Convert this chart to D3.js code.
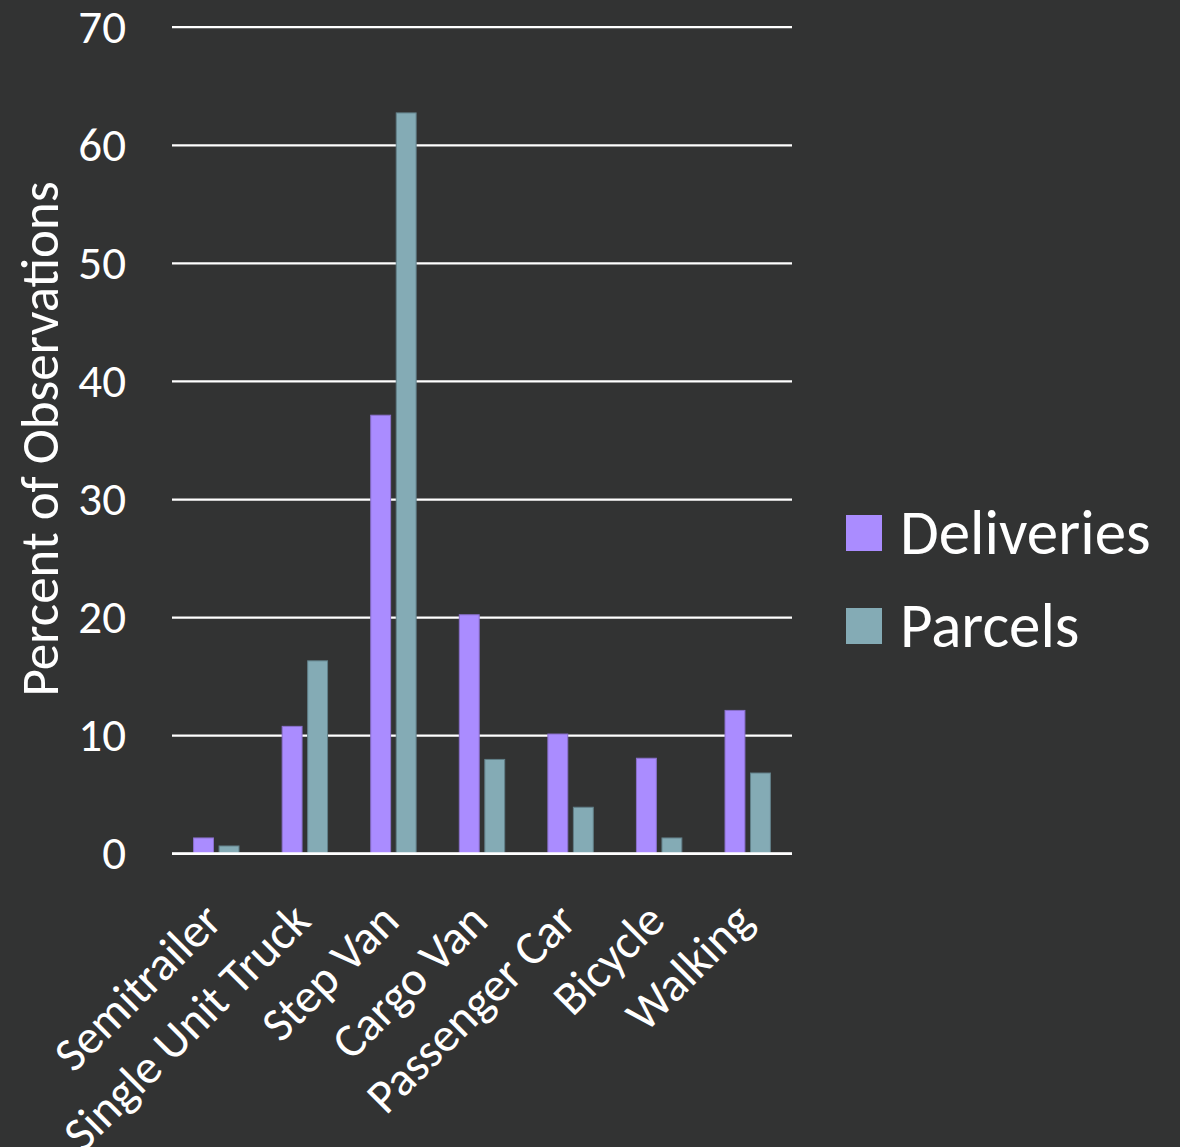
<!DOCTYPE html>
<html>
<head>
<meta charset="utf-8">
<script src="https://cdn.jsdelivr.net/npm/d3@7"></script>
<style>
  html, body { margin: 0; padding: 0; background: #323333; }
  text { font-family: Carlito, Calibri, "Open Sans", sans-serif; fill: #ffffff; }
</style>
</head>
<body>
<div id="chart"></div>
<script>
var categories = ["Semitrailer", "Single Unit Truck", "Step Van", "Cargo Van", "Passenger Car", "Bicycle", "Walking"];
var seriesNames = ["Deliveries", "Parcels"];
var deliveries = [1.3, 10.75, 37.1, 20.2, 10.1, 8.05, 12.1];
var parcels = [0.62, 16.3, 62.7, 7.95, 3.9, 1.3, 6.8];
var yTicks = [0, 10, 20, 30, 40, 50, 60, 70];

var colors = { Deliveries: "#aa8cff", Parcels: "#84abb5" };
var strokes = { Deliveries: "#8a70cc", Parcels: "#617f88" };

var values = { Deliveries: deliveries, Parcels: parcels };

var svg = d3.select("#chart")
    .append("svg")
    .attr("width", 1180)
    .attr("height", 1147);

var pArea = [172, 26.7, 792, 853.3];

var x = d3.scaleBand()
    .domain(categories)
    .range([pArea[0], pArea[2]]);

var x1 = d3.scaleBand()
    .domain(seriesNames)
    .range([-22.7, 22.7])
    .paddingInner(0.22);

var y = d3.scaleLinear()
    .domain([0, 70])
    .range([pArea[3], pArea[1]]);

// gridlines + tick labels
var yAxis = svg.append("g")
    .attr("class", "axis axis--y")
    .attr("transform", `translate(${pArea[0]},0)`)
    .call(d3.axisLeft(y).tickValues(yTicks).tickSize(-(pArea[2] - pArea[0])).tickPadding(46));
yAxis.select(".domain").remove();
yAxis.selectAll(".tick line")
    .attr("stroke", "#ffffff")
    .attr("stroke-width", 2.2);
yAxis.selectAll(".tick text")
    .attr("fill", "#ffffff")
    .style("font-family", "Carlito, Calibri, 'Open Sans', sans-serif")
    .style("font-size", "47px")
    .attr("dy", "0.33em");

// bars
var groups = svg.append("g")
  .selectAll("g")
  .data(categories)
  .join("g")
    .attr("transform", d => `translate(${x(d) + x.bandwidth() / 2},0)`);

groups.selectAll("rect")
  .data((d, i) => seriesNames.map(s => ({ key: s, value: values[s][i] })))
  .join("rect")
    .attr("x", d => x1(d.key))
    .attr("width", x1.bandwidth())
    .attr("y", d => y(d.value))
    .attr("height", d => y(0) - y(d.value))
    .attr("fill", d => colors[d.key])
    .attr("stroke", d => strokes[d.key])
    .attr("stroke-width", 1);

// baseline redraw over bars
svg.append("line")
    .attr("x1", pArea[0]).attr("x2", pArea[2])
    .attr("y1", y(0)).attr("y2", y(0))
    .attr("stroke", "#ffffff")
    .attr("stroke-width", 2.2);

// category labels
svg.append("g")
  .selectAll("text")
  .data(categories)
  .join("text")
    .attr("transform", d => `translate(${x(d) + x.bandwidth() / 2 + 8},${pArea[3] + 70}) rotate(-45)`)
    .attr("text-anchor", "end")
    .style("font-size", "48px")
    .text(d => d);

// y title
svg.append("text")
    .attr("transform", `translate(58,439) rotate(-90)`)
    .attr("text-anchor", "middle")
    .style("font-size", "53px")
    .text("Percent of Observations");

// legend
var legend = svg.append("g")
  .selectAll("g")
  .data(seriesNames)
  .join("g")
    .attr("transform", (d, i) => `translate(846,${515 + i * 93})`);

legend.append("rect")
    .attr("width", 36)
    .attr("height", 36)
    .attr("fill", d => colors[d]);

legend.append("text")
    .attr("x", 54)
    .attr("y", 18)
    .attr("dy", "0.34em")
    .style("font-size", "63px")
    .text(d => d);
</script>
</body>
</html>
